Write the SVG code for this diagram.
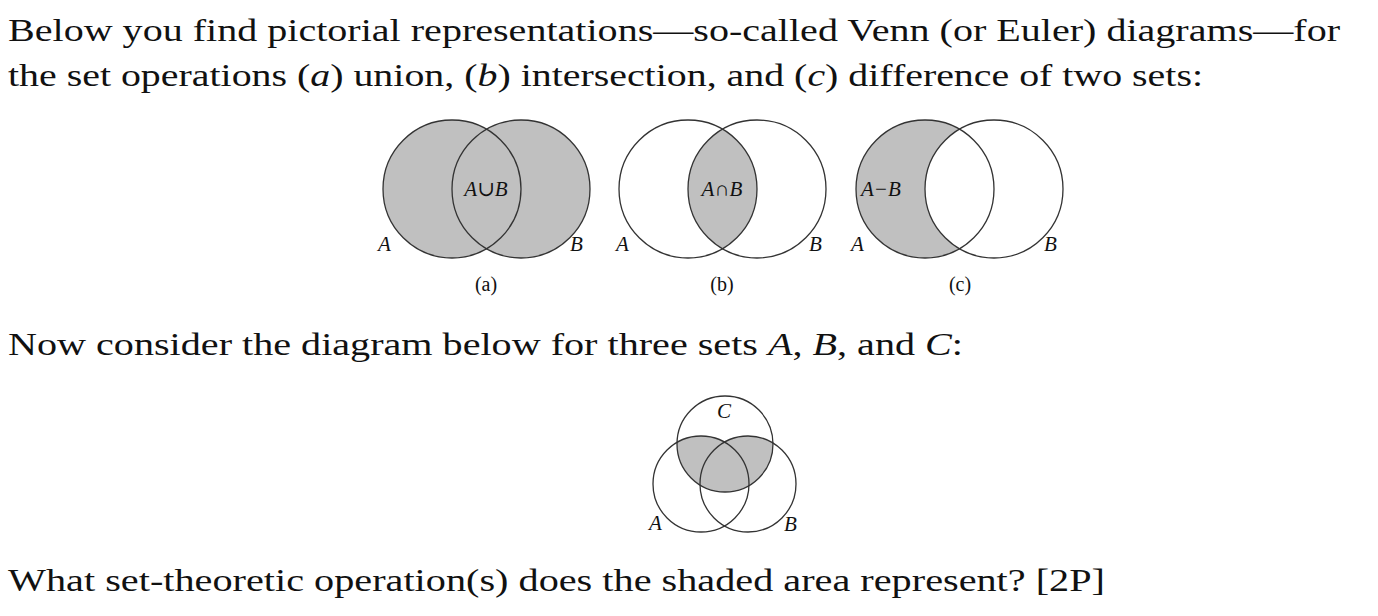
<svg xmlns="http://www.w3.org/2000/svg" width="1378" height="616" viewBox="0 0 1378 616">
<style>
.t{font-family:"Liberation Serif","DejaVu Serif",serif;font-size:32px;fill:#111}
.i{font-style:italic}
.c{fill:none;stroke:#333;stroke-width:1.3}
.g{fill:#c0c0c0}
.l{font-family:"Liberation Serif","DejaVu Serif",serif;font-style:italic;font-size:21px;fill:#111}
.cap{font-family:"Liberation Serif","DejaVu Serif",serif;font-size:20px;fill:#111;text-anchor:middle}
</style>
<defs>
<clipPath id="ca"><circle cx="452" cy="189" r="69"/></clipPath>
<clipPath id="cb"><circle cx="688" cy="189" r="69"/></clipPath>
<clipPath id="cc"><circle cx="994" cy="189" r="69"/></clipPath>
<clipPath id="cC"><circle cx="725" cy="444" r="48"/></clipPath>
</defs>
<rect width="1378" height="616" fill="#fff"/>
<text class="t" x="8" y="41" textLength="1332" lengthAdjust="spacingAndGlyphs">Below you find pictorial representations—so-called Venn (or Euler) diagrams—for</text>
<text class="t" x="8" y="86" textLength="1195" lengthAdjust="spacingAndGlyphs">the set operations (<tspan class="i">a</tspan>) union, (<tspan class="i">b</tspan>) intersection, and (<tspan class="i">c</tspan>) difference of two sets:</text>
<g id="venn-a">
<circle class="g" cx="452" cy="189" r="69"/><circle class="g" cx="521" cy="189" r="69"/>
<circle class="c" cx="452" cy="189" r="69"/><circle class="c" cx="521" cy="189" r="69"/>
<text class="l" x="486" y="196" text-anchor="middle">A∪B</text>
<text class="l" x="378" y="251">A</text><text class="l" x="570" y="251">B</text>
<text class="cap" x="486" y="291">(a)</text>
</g>
<g id="venn-b">
<circle class="g" cx="757" cy="189" r="69" clip-path="url(#cb)"/>
<circle class="c" cx="688" cy="189" r="69"/><circle class="c" cx="757" cy="189" r="69"/>
<text class="l" x="722" y="196" text-anchor="middle">A∩B</text>
<text class="l" x="616" y="251">A</text><text class="l" x="809" y="251">B</text>
<text class="cap" x="722" y="291">(b)</text>
</g>
<g id="venn-c">
<circle class="g" cx="925" cy="189" r="69"/><circle cx="994" cy="189" r="69" fill="#fff"/>
<circle class="c" cx="925" cy="189" r="69"/><circle class="c" cx="994" cy="189" r="69"/>
<text class="l" x="861" y="196">A−B</text>
<text class="l" x="851" y="251">A</text><text class="l" x="1044" y="251">B</text>
<text class="cap" x="960" y="291">(c)</text>
</g>
<text class="t" x="8" y="355" textLength="955" lengthAdjust="spacingAndGlyphs">Now consider the diagram below for three sets <tspan class="i">A</tspan>, <tspan class="i">B</tspan>, and <tspan class="i">C</tspan>:</text>
<g id="venn-abc">
<g clip-path="url(#cC)"><circle class="g" cx="701" cy="484" r="48"/><circle class="g" cx="748" cy="484" r="48"/></g>
<circle class="c" cx="725" cy="444" r="48"/><circle class="c" cx="701" cy="484" r="48"/><circle class="c" cx="748" cy="484" r="48"/>
<text class="l" x="717" y="418" font-size="19">C</text>
<text class="l" x="649" y="530" font-size="19">A</text>
<text class="l" x="784" y="531" font-size="19">B</text>
</g>
<text class="t" x="8" y="591" textLength="1097" lengthAdjust="spacingAndGlyphs">What set-theoretic operation(s) does the shaded area represent? [2P]</text>
</svg>
